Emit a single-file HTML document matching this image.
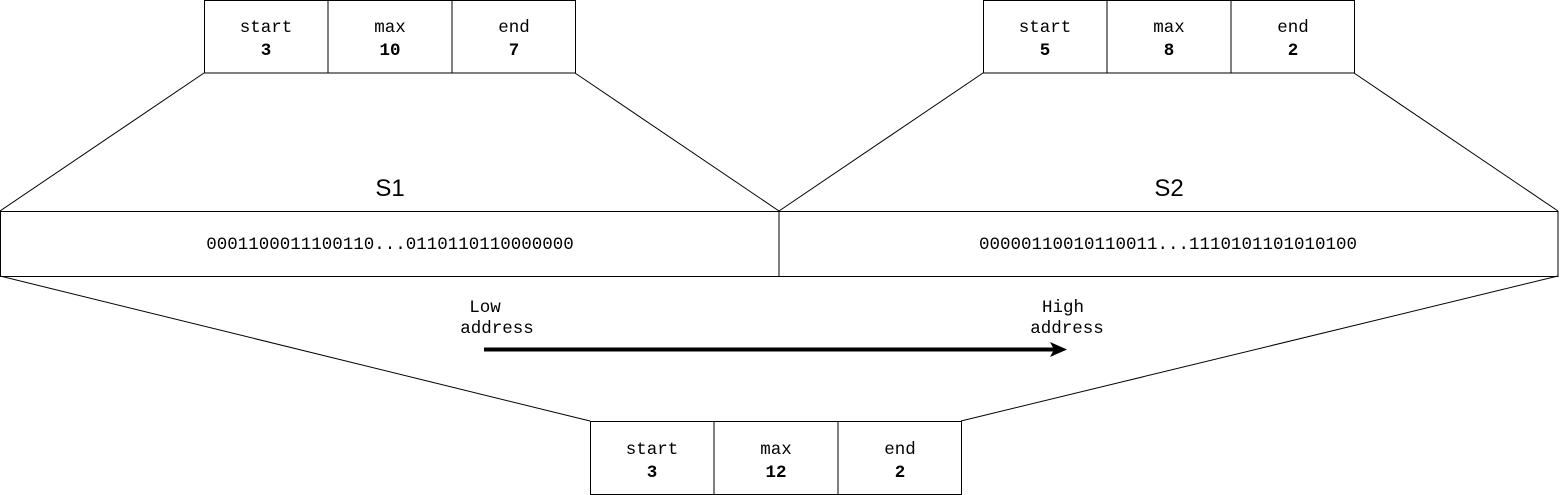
<!DOCTYPE html>
<html><head><meta charset="utf-8"><style>
html,body{margin:0;padding:0;background:#fff;}
svg{display:block}
text{font-family:"Liberation Mono",monospace;font-size:17.5px;fill:#000;}
.b{font-weight:bold}
.s{font-family:"Liberation Sans",sans-serif;font-size:24px}
</style></head><body>
<svg width="1560" height="495" viewBox="0 0 1560 495" xmlns="http://www.w3.org/2000/svg">
<g fill="none" stroke="#000" stroke-width="1">
<line x1="204" y1="73" x2="0" y2="211"/>
<line x1="575" y1="73" x2="779" y2="211"/>
<line x1="983" y1="73" x2="779" y2="211"/>
<line x1="1354" y1="73" x2="1558" y2="211"/>
<line x1="0" y1="276" x2="590" y2="421"/>
<line x1="1558" y1="276" x2="961" y2="421"/>
<rect x="0.5" y="211.5" width="778.5" height="65"/>
<rect x="779" y="211.5" width="779" height="65"/>
<rect x="204.5" y="0.5" width="371" height="72.5"/>
<line x1="328" y1="0" x2="328" y2="73"/><line x1="452" y1="0" x2="452" y2="73"/>
<rect x="983.5" y="0.5" width="371" height="72.5"/>
<line x1="1107" y1="0" x2="1107" y2="73"/><line x1="1231" y1="0" x2="1231" y2="73"/>
<rect x="590.5" y="421.5" width="371" height="73"/>
<line x1="714" y1="421" x2="714" y2="495"/><line x1="838" y1="421" x2="838" y2="495"/>
</g>
<g text-anchor="middle">
<text x="266" y="32">start</text><text x="266" y="55" class="b">3</text>
<text x="390" y="32">max</text><text x="390" y="55" class="b">10</text>
<text x="514" y="32">end</text><text x="514" y="55" class="b">7</text>
<text x="1045" y="32">start</text><text x="1045" y="55" class="b">5</text>
<text x="1169" y="32">max</text><text x="1169" y="55" class="b">8</text>
<text x="1293" y="32">end</text><text x="1293" y="55" class="b">2</text>
<text x="652" y="454">start</text><text x="652" y="477" class="b">3</text>
<text x="776" y="454">max</text><text x="776" y="477" class="b">12</text>
<text x="900" y="454">end</text><text x="900" y="477" class="b">2</text>
<text x="390" y="196" class="s">S1</text>
<text x="1169" y="196" class="s">S2</text>
<text x="390" y="249">0001100011100110...0110110110000000</text>
<text x="1168" y="249">00000110010110011...1110101101010100</text>
<text x="485" y="312">Low</text>
<text x="497" y="333">address</text>
<text x="1063" y="312">High</text>
<text x="1067" y="333">address</text>
</g>
<line x1="484" y1="349.5" x2="1056" y2="349.5" stroke="#000" stroke-width="4"/>
<polygon points="1050,342 1067,349.5 1050,357 1054,349.5" fill="#000"/>
</svg>
</body></html>
